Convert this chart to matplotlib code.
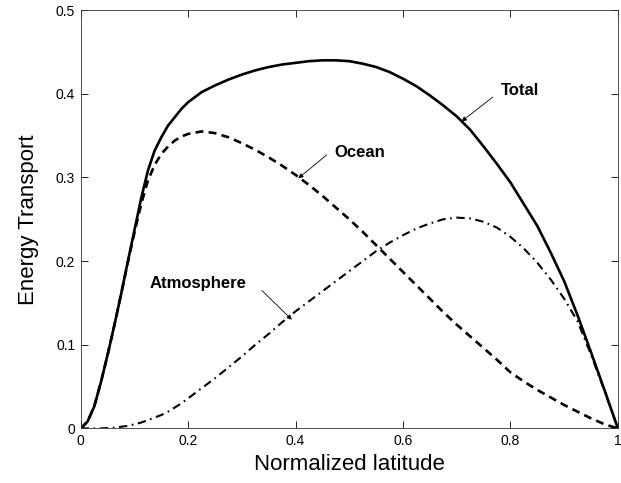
# energy transport vs normalized latitude
import matplotlib.pyplot as plt

plt.rcParams['font.family'] = ['Liberation Sans', 'DejaVu Sans']

# sample latitudes
lat = [0.0, 0.0125, 0.025, 0.0375, 0.05, 0.0625, 0.075, 0.0875, 0.1, 0.1125,
       0.125, 0.1375, 0.15, 0.1625, 0.175, 0.1875, 0.2, 0.225,
       0.25, 0.275, 0.3, 0.325, 0.35, 0.375, 0.4, 0.425, 0.45, 0.475,
       0.5, 0.525, 0.55, 0.575, 0.6, 0.625, 0.65, 0.675, 0.7, 0.725,
       0.75, 0.775, 0.8, 0.825, 0.85, 0.875, 0.9, 0.925, 0.95, 0.975, 1.0]

# transport values
total = [0.0, 0.008, 0.026, 0.055, 0.088, 0.123, 0.16, 0.199, 0.237, 0.275,
         0.308, 0.332, 0.348, 0.362, 0.372, 0.382, 0.39, 0.402,
         0.41, 0.417, 0.423, 0.428, 0.432, 0.435, 0.437, 0.439, 0.44, 0.44,
         0.439, 0.436, 0.432, 0.426, 0.418, 0.409, 0.398, 0.386, 0.373, 0.357,
         0.337, 0.316, 0.294, 0.268, 0.242, 0.21, 0.176, 0.135, 0.091, 0.046, 0.0]

ocean = [0.0, 0.008, 0.026, 0.055, 0.088, 0.123, 0.16, 0.198, 0.234, 0.268,
         0.296, 0.315, 0.328, 0.337, 0.344, 0.349, 0.352, 0.355,
         0.353, 0.348, 0.341, 0.333, 0.324, 0.314, 0.303, 0.291, 0.278, 0.264,
         0.25, 0.235, 0.219, 0.203, 0.187, 0.171, 0.155, 0.139, 0.124, 0.11,
         0.096, 0.082, 0.067, 0.056, 0.046, 0.037, 0.028, 0.02, 0.012, 0.005, 0.0]

atmos = [0.0, 0.0, 0.0, 0.0, 0.0005, 0.001, 0.002, 0.003, 0.005, 0.007,
         0.01, 0.013, 0.016, 0.02, 0.025, 0.03, 0.036, 0.048,
         0.06, 0.073, 0.086, 0.1, 0.113, 0.127, 0.14, 0.152, 0.164, 0.176,
         0.188, 0.2, 0.212, 0.222, 0.231, 0.239, 0.245, 0.25, 0.252, 0.251,
         0.247, 0.24, 0.229, 0.215, 0.198, 0.178, 0.155, 0.128, 0.088, 0.045, 0.0]

xticks = [0, 0.2, 0.4, 0.6, 0.8, 1]
xtick_labels = ['0', '0.2', '0.4', '0.6', '0.8', '1']
yticks = [0, 0.1, 0.2, 0.3, 0.4, 0.5]
ytick_labels = ['0', '0.1', '0.2', '0.3', '0.4', '0.5']

fig = plt.figure(figsize=(6.21, 4.83), dpi=100)
ax = fig.add_axes([0.13, 0.113, 0.865, 0.866])

ax.plot(lat, total, color='black', lw=1.9)
ax.plot(lat, ocean, color='black', lw=1.9, dashes=(3.0, 2.0))
ax.plot(lat, atmos, color='black', lw=1.5, dashes=(4.0, 2.2, 0.8, 2.2))

# labels, then thin arrows pointing to the curves
arrow = dict(arrowstyle='-|>', lw=0.6, color='black', mutation_scale=7, shrinkA=0, shrinkB=0)
ax.text(0.782, 0.398, 'Total', fontsize=12, fontweight='bold', ha='left', va='baseline')
ax.annotate('', xy=(0.709, 0.367), xytext=(0.767, 0.396), arrowprops=arrow)
ax.text(0.473, 0.324, 'Ocean', fontsize=12, fontweight='bold', ha='left', va='baseline')
ax.annotate('', xy=(0.405, 0.299), xytext=(0.458, 0.327), arrowprops=arrow)
ax.text(0.129, 0.168, 'Atmosphere', fontsize=12, fontweight='bold', ha='left', va='baseline')
ax.annotate('', xy=(0.393, 0.13), xytext=(0.337, 0.165), arrowprops=arrow)

ax.set_xlim(0, 1)
ax.set_ylim(0, 0.5)
ax.set_xticks(xticks)
ax.set_xticklabels(xtick_labels)
ax.set_yticks(yticks)
ax.set_yticklabels(ytick_labels)
ax.tick_params(direction='in', length=5, width=0.6, top=True, right=True, labelsize=10, pad=4)
for s in ax.spines.values():
    s.set_linewidth(0.6)
    s.set_color('#333333')

ax.set_xlabel('Normalized latitude', fontsize=16, labelpad=4)
ax.set_ylabel('Energy Transport', fontsize=16, labelpad=12)

fig.savefig('out.png', dpi=100)
